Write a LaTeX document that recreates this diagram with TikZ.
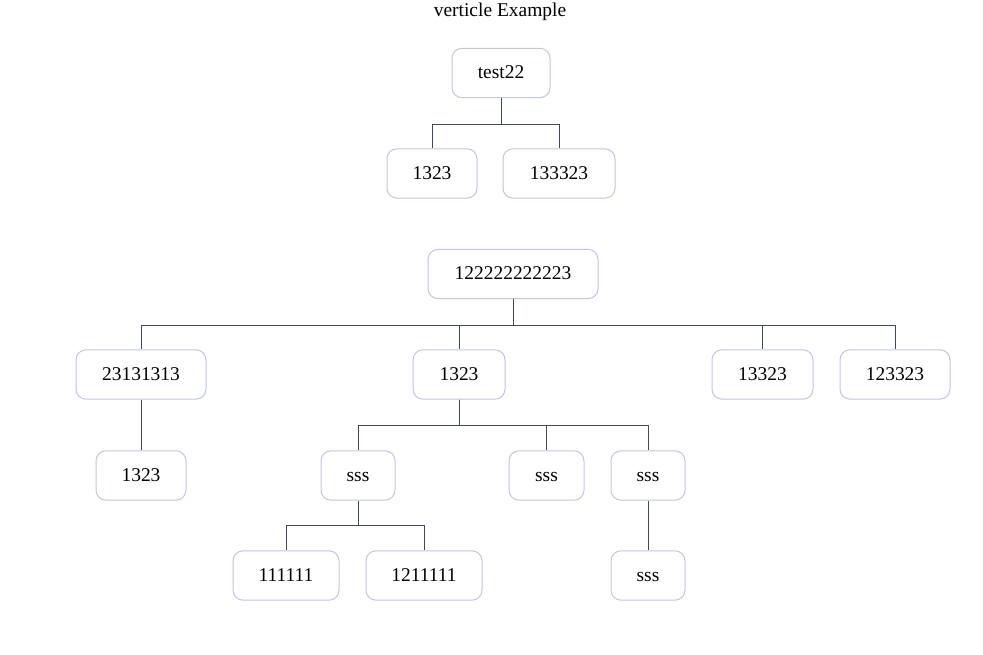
\documentclass[tikz,border=0pt]{standalone}
\usepackage{fontspec}
\setmainfont{Liberation Serif}
\definecolor{boxline}{RGB}{190,198,226}
\definecolor{linkline}{RGB}{62,72,92}
\tikzset{
  item/.style={draw=boxline, line width=0.75pt, rounded corners=7.5pt, minimum height=37pt, inner sep=0pt, text height=10pt, text depth=1pt, font=\fontsize{14.6pt}{16pt}\selectfont},
  link/.style={draw=linkline, line width=0.75pt}
}
\begin{document}
\begin{tikzpicture}[x=0.75pt, y=-0.75pt]
            \useasboundingbox (0,0) rectangle (983,655);
            \node[font=\fontsize{14.6pt}{16pt}\selectfont] (title) at (500,12) {verticle Example};

            % first tree
            \node[item, minimum width=73.5pt] (test) at (501,73) {test22};
            \node[item, minimum width=67.5pt] (ta) at (432,173.5) {1323};
            \node[item, minimum width=84pt] (tb) at (559,173.5) {133323};
            \foreach \c in {ta,tb}
                \draw[link] (test.south) -- ++(0,26) -| (\c.north);

            % second tree
            \node[item, minimum width=127.5pt] (root) at (513,274) {122222222223};
            \node[item, minimum width=97.5pt] (ra) at (141,374.5) {23131313};
            \node[item, minimum width=69pt] (rb) at (459,374.5) {1323};
            \node[item, minimum width=75.75pt] (rc) at (762.5,374.5) {13323};
            \node[item, minimum width=82.5pt] (rd) at (895,374.5) {123323};
            \foreach \c in {ra,rb,rc,rd}
                \draw[link] (root.south) -- ++(0,26) -| (\c.north);

            \node[item, minimum width=67.5pt] (raa) at (141,475.5) {1323};
            \draw[link] (ra.south) -- (raa.north);

            \node[item, minimum width=55.5pt] (rba) at (358,475.5) {sss};
            \node[item, minimum width=56.25pt] (rbb) at (546.5,475.5) {sss};
            \node[item, minimum width=55.5pt] (rbc) at (648,475.5) {sss};
            \foreach \c in {rba,rbb,rbc}
                \draw[link] (rb.south) -- ++(0,26) -| (\c.north);

            \node[item, minimum width=79.5pt] (rbaa) at (286,575.5) {111111};
            \node[item, minimum width=87pt] (rbab) at (424,575.5) {1211111};
            \foreach \c in {rbaa,rbab}
                \draw[link] (rba.south) -- ++(0,25) -| (\c.north);

            \node[item, minimum width=55.5pt] (rbca) at (648,575.5) {sss};
            \draw[link] (rbc.south) -- (rbca.north);
\end{tikzpicture}
\end{document}
